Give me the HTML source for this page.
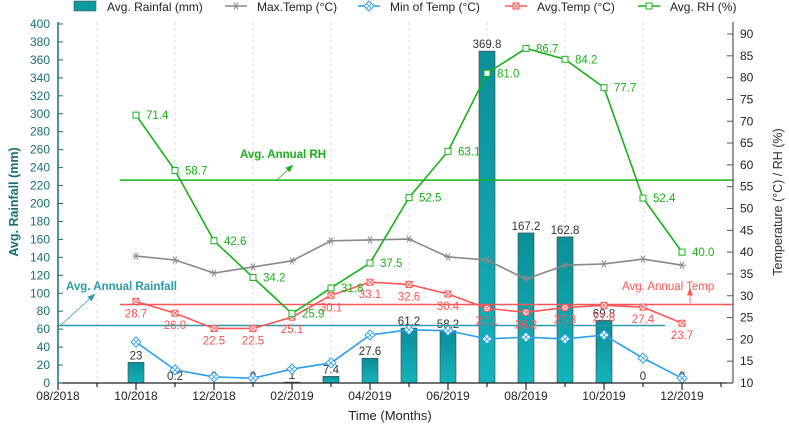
<!DOCTYPE html>
<html><head><meta charset="utf-8"><style>
body{margin:0;background:#fff;width:789px;height:428px;overflow:hidden}
svg{font-family:"Liberation Sans",sans-serif}
</style></head><body>
<svg id="c" width="789" height="428">
<defs><linearGradient id="bg" x1="0" x2="0" y1="0" y2="1"><stop offset="0" stop-color="#0b8f98"/><stop offset="1" stop-color="#14b3bb"/></linearGradient></defs>
<g id="g"></g>
</svg>
<script>
const months=['10/2018','11/2018','12/2018','01/2019','02/2019','03/2019','04/2019','05/2019','06/2019','07/2019','08/2019','09/2019','10/2019','11/2019','12/2019'];
const rainfall=[23,0.2,0,0,1,7.4,27.6,61.2,58.2,369.8,167.2,162.8,69.8,0,0];
const maxTemp=[39.1,38.2,35.2,36.6,38,42.6,42.8,43,38.9,38.2,33.8,37,37.3,38.4,37];
const minTemp=[19.4,13,11.4,11.1,13.2,14.6,21,22.2,22,20.1,20.5,20.1,21,15.7,11.1];
const avgTemp=[28.7,26.0,22.5,22.5,25.1,30.1,33.1,32.6,30.4,27.1,26.2,27.3,27.8,27.4,23.7];
const avgRH=[71.4,58.7,42.6,34.2,25.9,31.8,37.5,52.5,63.1,81.0,86.7,84.2,77.7,52.4,40.0];
const xTicks=['08/2018','10/2018','12/2018','02/2019','04/2019','06/2019','08/2019','10/2019','12/2019'];
const leftTicks=[0,20,40,60,80,100,120,140,160,180,200,220,240,260,280,300,320,340,360,380,400];
const rightTicks=[10,15,20,25,30,35,40,45,50,55,60,65,70,75,80,85,90];
const avgRainLine=64, avgTempLine=28, avgRHLine=56.5;

const X0=58,DX=39,XR=733,YB=383;
const xm=i=>X0+DX*(i+2);
const yl=v=>YB-v*0.8975;
const yr=v=>YB-(v-10)*4.3625;
const g=document.getElementById('g');
const NS='http://www.w3.org/2000/svg';
function el(t,a,txt){const e=document.createElementNS(NS,t);for(const k in a)e.setAttribute(k,a[k]);if(txt!=null)e.textContent=txt;g.appendChild(e);return e;}

for(let k=1;k<17;k+=2){const e=el('line',{x1:X0+DX*k,x2:X0+DX*k,y1:22,y2:YB,stroke:'#ddd','stroke-dasharray':'3,3'});
}
rainfall.forEach((v,i)=>{const e=el('rect',{x:xm(i)-8,y:yl(v),width:16,height:YB-yl(v),fill:'url(#bg)',stroke:'#444','stroke-width':0.6});

const t=el('text',{x:xm(i),y:yl(v)-3,'font-size':11.5,fill:'#333','text-anchor':'middle'},String(v));
});
let r=el('line',{x1:120,x2:XR,y1:yr(avgRHLine),y2:yr(avgRHLine),stroke:'#1ab01a','stroke-width':1.5});
r=el('line',{x1:120,x2:XR,y1:yr(avgTempLine),y2:yr(avgTempLine),stroke:'#f55','stroke-width':1.5});
r=el('line',{x1:X0,x2:665,y1:yl(avgRainLine),y2:yl(avgRainLine),stroke:'#2a9aa8','stroke-width':1.5});
function marker(x,y,c,kind){
 if(kind==='star'){for(const a of [0,60,120]){const r=a*Math.PI/180;el('line',{x1:x-4*Math.cos(r),y1:y-4*Math.sin(r),x2:x+4*Math.cos(r),y2:y+4*Math.sin(r),stroke:c,'stroke-width':1});}}
 else if(kind==='diamond'){el('polygon',{points:`${x},${y-5} ${x+5},${y} ${x},${y+5} ${x-5},${y}`,fill:'#fff',stroke:c});
  el('path',{d:`M${x-2.5} ${y-2.5}L${x+2.5} ${y+2.5}M${x+2.5} ${y-2.5}L${x-2.5} ${y+2.5}`,stroke:c,'stroke-width':0.8});}
 else if(kind==='xsq'){el('rect',{x:x-3,y:y-3,width:6,height:6,fill:'#fff',stroke:c});
  el('path',{d:`M${x-3} ${y-3}L${x+3} ${y+3}M${x+3} ${y-3}L${x-3} ${y+3}`,stroke:c,'stroke-width':0.8});}
 else el('rect',{x:x-3,y:y-3,width:6,height:6,fill:'#fff',stroke:c});
}
function series(vals,color,name,kind,labels){
 const pts=vals.map((v,i)=>xm(i)+','+yr(v)).join(' ');
 const p=el('polyline',{points:pts,fill:'none',stroke:color,'stroke-width':1.6});
 
 vals.forEach((v,i)=>{marker(xm(i),yr(v),color,kind);
 if(labels){const t=el('text',{x:labels==='right'?xm(i)+10:xm(i),y:labels==='right'?yr(v)+4:yr(v)+16,'font-size':11.5,fill:color,'text-anchor':labels==='right'?'start':'middle'},v.toFixed(1));
 }});
}
series(maxTemp,'#888','max-temp','star',null);
series(minTemp,'#2a9fe8','min-temp','diamond',null);
series(avgTemp,'#f55','avg-temp','xsq','below');
series(avgRH,'#1ab01a','avg-rh','sq','right');
r=el('line',{x1:X0,x2:XR,y1:YB,y2:YB,stroke:'#222','stroke-width':1.2});
r=el('line',{x1:X0,x2:X0,y1:22,y2:YB,stroke:'#1a6e76','stroke-width':1.5});
r=el('line',{x1:XR,x2:XR,y1:22,y2:YB,stroke:'#555','stroke-width':1.2});
for(let k=0;k<18;k++){el('line',{x1:X0+DX*k,x2:X0+DX*k,y1:YB,y2:YB+(k%2?4:7),stroke:'#222','stroke-width':1.2});}
xTicks.forEach((t,k)=>{const e=el('text',{x:X0+DX*2*k,y:YB+17,'font-size':12,fill:'#222','text-anchor':'middle'},t);
});
leftTicks.forEach(v=>{el('line',{x1:X0,x2:X0+5,y1:yl(v),y2:yl(v),stroke:'#1a6e76'});
const e=el('text',{x:X0-8,y:yl(v)+4,'font-size':12,fill:'#1a6e76','text-anchor':'end'},v);
});
rightTicks.forEach(v=>{el('line',{x1:XR-6,x2:XR,y1:yr(v),y2:yr(v),stroke:'#555'});
const e=el('text',{x:XR+7,y:yr(v)+4,'font-size':12,fill:'#222'},v);
});
function ann(txt,x,y,c,name,ax1,ay1,ax2,ay2,bold){const t=el('text',{x:x,y:y,'font-size':11.5,'font-weight':bold?'bold':'normal',fill:c},txt);

el('line',{x1:ax1,y1:ay1,x2:ax2,y2:ay2,stroke:c,'stroke-width':0.8});
const a=Math.atan2(ay2-ay1,ax2-ax1),L=8;
el('polygon',{points:`${ax2},${ay2} ${ax2-L*Math.cos(a-0.4)},${ay2-L*Math.sin(a-0.4)} ${ax2-L*Math.cos(a+0.4)},${ay2-L*Math.sin(a+0.4)}`,fill:c});}
ann('Avg. Annual RH',240,158,'#1ab01a','avg-rh-annotation',276,181,293,165,true);
ann('Avg. Annual Rainfall',66,290,'#2a9aa8','avg-rain-annotation',61,325,95,294,true);
ann('Avg. Annual Temp',622,290,'#f55','avg-temp-annotation',690,303,690,288,false);
let t=el('text',{x:0,y:0,transform:'translate(18,202) rotate(-90)','font-size':12.5,'font-weight':'bold',fill:'#1a6e76','text-anchor':'middle'},'Avg. Rainfall (mm)');

t=el('text',{x:0,y:0,transform:'translate(782,202) rotate(-90)','font-size':12.5,fill:'#333','text-anchor':'middle'},'Temperature (°C) / RH (%)');

t=el('text',{x:390,y:420,'font-size':13,fill:'#222','text-anchor':'middle'},'Time (Months)');

const leg=[['Avg. Rainfal (mm)','bar','#0e9aa2',74],['Max.Temp (°C)','star','#888',227],['Min of Temp (°C)','diamond','#2a9fe8',360],['Avg.Temp (°C)','xsq','#f55',507],['Avg. RH (%)','sq','#1ab01a',640]];
leg.forEach(([n,k,c,x])=>{
 if(k==='bar'){el('rect',{x:x,y:1,width:22,height:10,fill:'#0e9aa2',stroke:'#555','stroke-width':0.6});}
 else{el('line',{x1:x-2,x2:x+20,y1:6,y2:6,stroke:c,'stroke-width':1.5});marker(x+9,6,c,k);}
 const e=el('text',{x:x+(k==='bar'?33:30),y:11,'font-size':12,fill:'#222'},n);
 
});
</script>
</body></html>
